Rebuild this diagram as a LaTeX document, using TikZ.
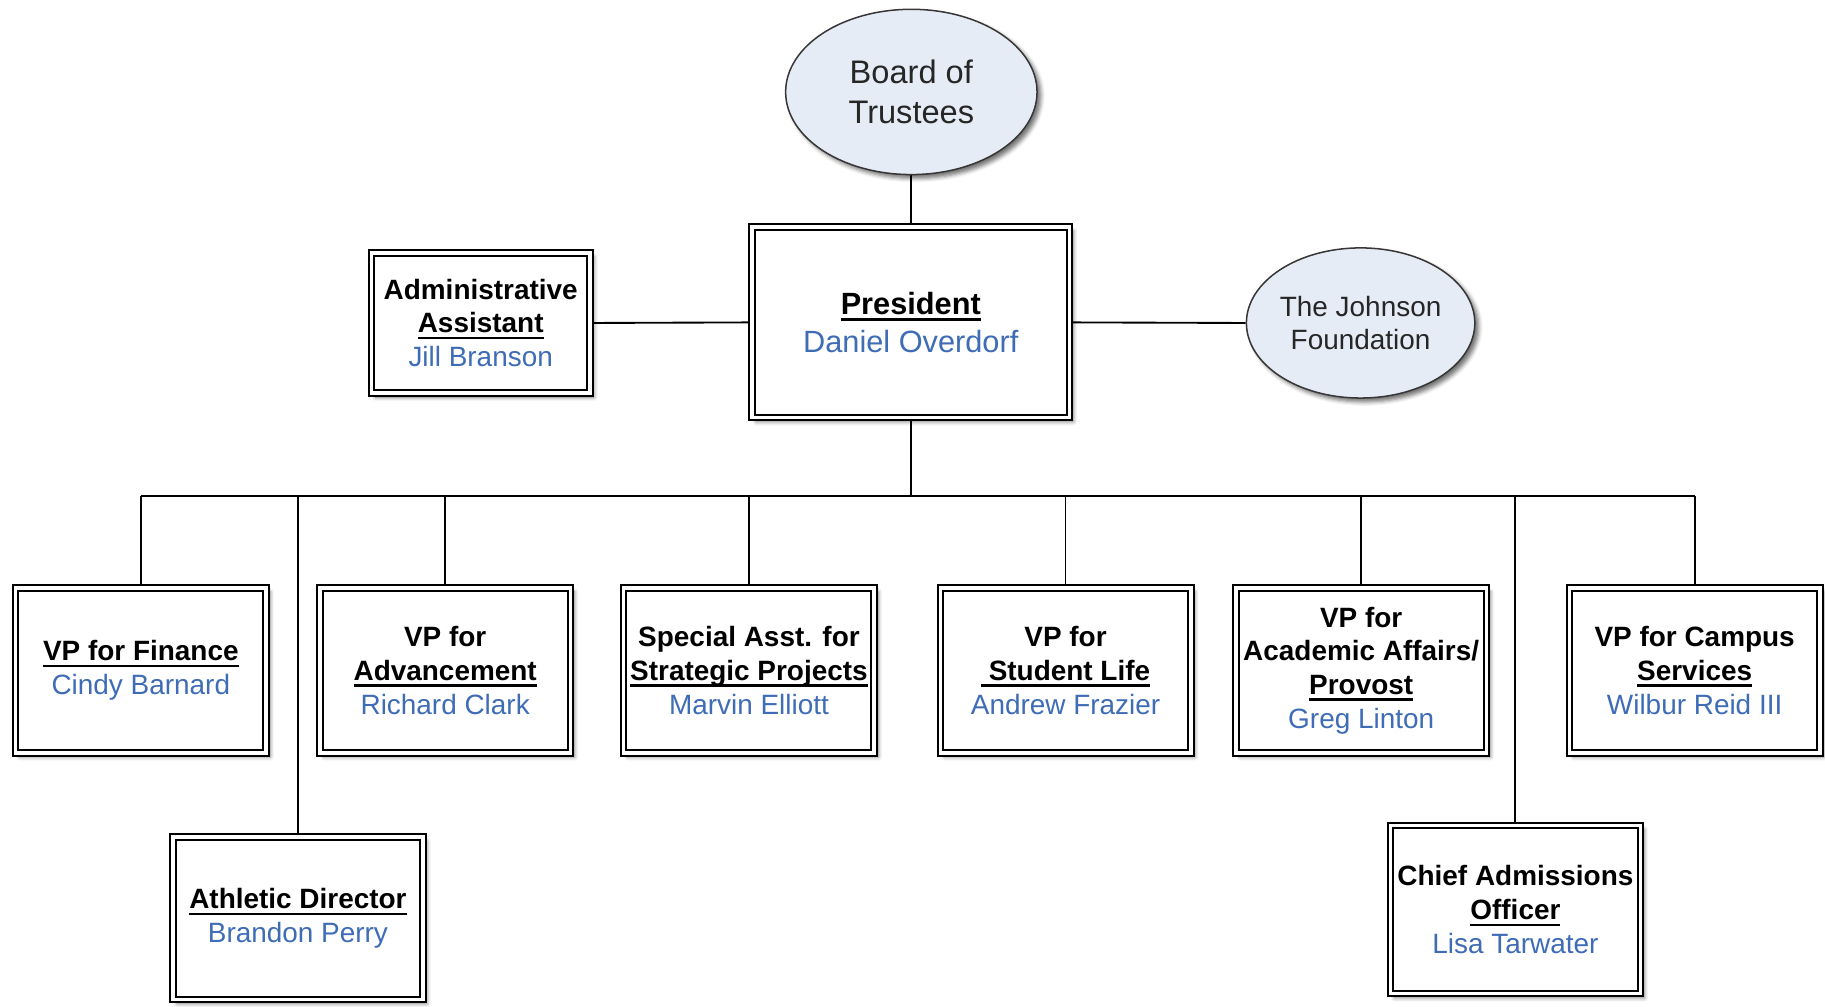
\documentclass[tikz,border=0pt]{standalone}
\usepackage{fontspec}
\setmainfont{Liberation Sans}
\usetikzlibrary{shapes.geometric,shadows.blur,backgrounds}
\definecolor{namec}{RGB}{62,108,182}
\definecolor{ellfill}{RGB}{230,236,246}
\definecolor{ellline}{RGB}{55,55,55}
\newcommand\myul[1]{\setbox0\hbox{#1}\leavevmode\rlap{\rule[-2.8pt]{\wd0}{1.1pt}}\box0}
\newcommand\nm[1]{\textcolor{namec}{\fontseries{m}\selectfont #1}}
\tikzset{
  orgbox/.style={draw=black, line width=0.85pt, double=white, double distance=1.5pt,
    fill=white, align=center, inner sep=0pt, font=\fontsize{12}{14.5}\selectfont,
    blur shadow={shadow xshift=1.7pt, shadow yshift=-1.7pt, shadow blur radius=1.7pt, shadow opacity=55}},
  vpbox/.style={orgbox, minimum width=107.6pt, minimum height=70.8pt},
  ell/.style={ellipse, draw=ellline, line width=0.65pt, fill=ellfill, align=center,
    inner sep=0pt, text=black!85,
    blur shadow={shadow xshift=1.7pt, shadow yshift=-1.7pt, shadow blur radius=1.7pt, shadow opacity=55}},
  conn/.style={draw=black, line width=0.8pt},
}
\begin{document}
\begin{tikzpicture}[x=0.5pt,y=-0.5pt]
\useasboundingbox (0,0) rectangle (1568,865);
% top
\node[ell, minimum width=108pt, minimum height=71pt, font=\fontsize{14}{17}\selectfont] (board) at (783,79) {Board of\\Trustees};
\node[orgbox, minimum width=136.3pt, minimum height=81.8pt, font=\fontsize{13.2}{16.5}\selectfont] (pres) at (782.5,277) {\textbf{\myul{President}}\\\nm{Daniel Overdorf}};
\node[orgbox, minimum width=93.8pt, minimum height=60.3pt] (admin) at (413,277.5) {\textbf{Administrative}\\\textbf{\myul{Assistant}}\\\nm{Jill Branson}};
\node[ell, minimum width=97pt, minimum height=64.5pt, font=\fontsize{12}{14.5}\selectfont] (johnson) at (1169,277.5) {The Johnson\\Foundation};
% VP row
\node[vpbox] (fin) at (121,576) {\textbf{\myul{VP for Finance}}\\\nm{Cindy Barnard}};
\node[vpbox] (adv) at (382.5,576) {\textbf{VP for}\\\textbf{\myul{Advancement}}\\\nm{Richard Clark}};
\node[vpbox] (spec) at (643.5,576) {\textbf{Special Asst. for}\\\textbf{\myul{Strategic Projects}}\\\nm{Marvin Elliott}};
\node[vpbox] (stud) at (915.5,576) {\textbf{VP for}\\\textbf{\myul{\ Student Life}}\\\nm{Andrew Frazier}};
\node[vpbox] (acad) at (1169.5,576) {\textbf{VP for}\\\textbf{Academic Affairs/}\\\textbf{\myul{Provost}}\\\nm{Greg Linton}};
\node[vpbox] (camp) at (1456,576) {\textbf{VP for Campus}\\\textbf{\myul{Services}}\\\nm{Wilbur Reid III}};
% lower
\node[orgbox, minimum width=107.3pt, minimum height=69.8pt] (ath) at (256,789) {\textbf{\myul{Athletic Director}}\\\nm{Brandon Perry}};
\node[orgbox, minimum width=107.3pt, minimum height=72.3pt] (chief) at (1302,781.5) {\textbf{Chief Admissions}\\\textbf{\myul{Officer}}\\\nm{Lisa Tarwater}};
% connectors
\coordinate (bus) at (783,426);
\begin{scope}[on background layer]
\draw[conn] (board.south) -- (board.south |- pres.north);
\draw[conn] (admin.east) -- (pres.west);
\draw[conn] (pres.east) -- (johnson.west);
\draw[conn] (pres.south) -- (pres.south |- bus);
\draw[conn] (fin.north |- bus) -- (camp.north |- bus);
\foreach \c in {fin,adv,spec,stud,acad,camp,ath,chief}
  \draw[conn] (\c.north) -- (\c.north |- bus);
\end{scope}
\end{tikzpicture}
\end{document}
